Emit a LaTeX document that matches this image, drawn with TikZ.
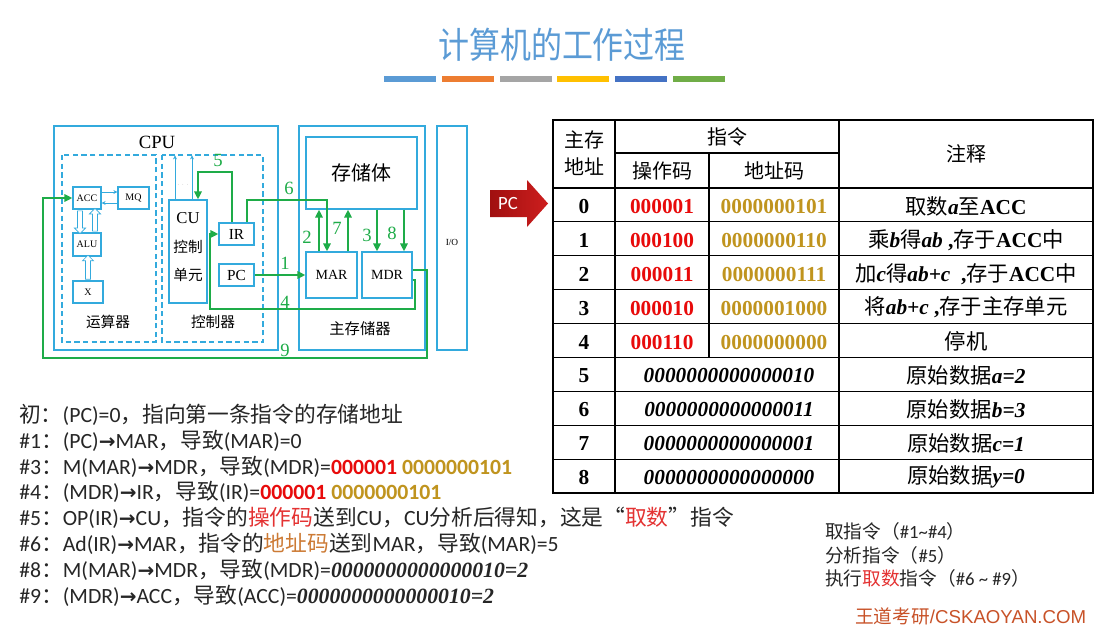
\documentclass[tikz,border=0pt]{standalone}
\usepackage{fontspec}
\usetikzlibrary{arrows.meta,calc,shapes.arrows}
\setmainfont{Liberation Serif}
\newfontfamily\cjk{Noto Sans CJK SC}
\newfontfamily\calib{Carlito}
\newfontfamily\arl{Liberation Sans}
\newfontfamily\djv{DejaVu Sans}
\newcommand\zh[1]{{\cjk\mdseries #1}}
\newcommand\rarr{{\djv\bfseries\fontsize{15}{15}\selectfont →}}
\newcommand\bitx{\rmfamily\bfseries\itshape}
\definecolor{boxblue}{RGB}{51,170,221}
\definecolor{ggreen}{RGB}{30,172,72}
\definecolor{titleblue}{RGB}{91,155,213}
\definecolor{barA}{RGB}{91,155,213}
\definecolor{barB}{RGB}{237,125,49}
\definecolor{barC}{RGB}{165,165,165}
\definecolor{barD}{RGB}{255,192,0}
\definecolor{barE}{RGB}{68,114,196}
\definecolor{barF}{RGB}{112,173,71}
\definecolor{txt}{RGB}{38,38,38}
\definecolor{tred}{RGB}{232,10,10}
\definecolor{tgold}{RGB}{192,148,30}
\definecolor{lred}{RGB}{228,50,50}
\definecolor{brownA}{RGB}{204,122,52}
\definecolor{wdcol}{RGB}{200,82,40}
\definecolor{pcdark}{RGB}{160,16,16}
\definecolor{pclight}{RGB}{205,30,30}
\begin{document}
\begin{tikzpicture}[x=0.75pt,y=-0.75pt,
  cbox/.style={draw=boxblue,line width=1.3pt},
  dbox/.style={draw=boxblue,line width=0.9pt,dash pattern=on 4pt off 2.5pt},
  ibox/.style={draw=boxblue,line width=0.9pt,fill=white,inner sep=0pt},
  gl/.style={draw=ggreen,line width=2pt,-{Triangle[length=6pt,width=5.5pt]}},
  thinarr/.style={draw=boxblue,line width=0.6pt,-{Stealth[length=3pt,width=3pt]}},
  harr/.style={single arrow,draw=boxblue,fill=white,line width=0.5pt,inner sep=1.6pt,
     single arrow head extend=2.3pt,single arrow head indent=0pt,minimum width=0pt},
  lbl/.style={text=ggreen,font=\fontsize{14}{14}\selectfont,inner sep=0pt},
  tl/.style={draw=black,line width=0.8pt},
  tnum/.style={font=\fontsize{16}{16}\selectfont\bfseries,inner sep=0pt},
  thead/.style={font=\cjk\fontsize{15}{20}\selectfont,inner sep=0pt,align=center},
  bline/.style={anchor=west,inner sep=0pt,text=txt,font=\calib\fontsize{16.3}{16}\selectfont},
  rline/.style={anchor=west,inner sep=0pt,text=txt,font=\calib\fontsize{14}{14}\selectfont}]
\useasboundingbox (0,0) rectangle (1117,629);
\fill[white] (0,0) rectangle (1117,629);

% title and bars
\node[text=titleblue,font=\cjk\fontsize{27}{30}\selectfont,xscale=0.86] (title) at (562,45) {计算机的工作过程};
\foreach \c [count=\i from 0] in {barA,barB,barC,barD,barE,barF}
  \fill[\c] ({384+\i*57.8},76) rectangle ++(52,6);

% ---------- CPU diagram ----------
\draw[cbox] (54,126) rectangle (278,350);
\node[font=\fontsize{14}{14}\selectfont] (cpu) at (157,142) {CPU};
\draw[dbox] (62,155) rectangle (156,342);
\draw[dbox] (162,155) rectangle (263,342);

\node[ibox,minimum width=21pt,minimum height=16.5pt,font=\fontsize{7.5}{8}\selectfont] (ACC) at (87,198) {ACC};
\node[ibox,minimum width=23.25pt,minimum height=16.5pt,font=\fontsize{7.5}{8}\selectfont] (MQ) at (133.5,198) {MQ};
\node[ibox,minimum width=21pt,minimum height=17.25pt,font=\fontsize{7.5}{8}\selectfont] (ALU) at (87,244.5) {ALU};
\node[ibox,minimum width=22.5pt,minimum height=16.5pt,font=\fontsize{7.5}{8}\selectfont] (X) at (88,292) {X};
\node[font=\cjk\fontsize{11}{11}\selectfont] (ysq) at (108,322) {运算器};

\draw[thinarr] ($(ACC.east)+(0,-6)$) -- ($(MQ.west)+(0,-6)$);
\draw[thinarr] ($(MQ.west)+(0,5)$) -- ($(ACC.east)+(0,5)$);
\node[harr,rotate=-90,minimum height=17pt] (h1) at (80,221) {};
\node[harr,rotate=90,minimum height=17pt] (h2) at (95,221) {};
\node[harr,rotate=90,minimum height=18pt] (h3) at (88,268.5) {};

\node[ibox,minimum width=28.5pt,minimum height=77.25pt] (CU) at (188,251.5) {};
\node[font=\fontsize{12.5}{12}\selectfont] (cut) at (188,218) {CU};
\node[font=\cjk\fontsize{11}{11}\selectfont] (cuz1) at (188,247) {控制};
\node[font=\cjk\fontsize{11}{11}\selectfont] (cuz2) at (188,275) {单元};
\draw[thinarr] ($(CU.north)+(-13,0)$) -- ++(0,-44);
\draw[thinarr] ($(CU.north)+(4,0)$) -- ++(0,-44);
\node[text=gray!60,font=\tiny] (dots) at (183,185) {$\cdots$};
\node[ibox,minimum width=26.25pt,minimum height=16.5pt,font=\fontsize{11.5}{11}\selectfont] (IR) at (236.5,234) {IR};
\node[ibox,minimum width=26.25pt,minimum height=16.5pt,font=\fontsize{11.5}{11}\selectfont] (PC) at (236.5,275) {PC};
\node[font=\cjk\fontsize{11}{11}\selectfont] (kzq) at (213,322) {控制器};

% main memory
\draw[cbox] (299,126) rectangle (425,350);
\node[ibox,minimum width=83.25pt,minimum height=54pt,font=\cjk\fontsize{15}{15}\selectfont] (MEM) at (361.5,173) {存储体};
\node[ibox,minimum width=38.25pt,minimum height=34.5pt,font=\fontsize{10.5}{11}\selectfont] (MAR) at (331.5,275) {MAR};
\node[ibox,minimum width=37.5pt,minimum height=34.5pt,font=\fontsize{10.5}{11}\selectfont] (MDR) at (387,275) {MDR};
\node[font=\cjk\fontsize{11.5}{12}\selectfont] (zcc) at (360,329) {主存储器};

% I/O
\draw[cbox] (437,126) rectangle (467,350);
\node[font=\fontsize{7}{7}\selectfont] (io) at (452,242) {I/O};

% green connectors
\coordinate (b5) at (198,172);
\draw[gl] ($(IR.north)+(-4.5,0)$) |- (b5) -- (b5 |- CU.north);
\coordinate (b6) at (327,200);
\draw[gl] ($(IR.north)+(10.5,0)$) |- (b6) -- (b6 |- MAR.north);
\draw[gl] (PC.east) -- (PC.east -| MAR.west);
\coordinate (a2) at ($(MAR.north)+(-12.5,0)$);
\draw[gl] (a2) -- (a2 |- MEM.south);
\coordinate (a7) at ($(MAR.north)+(16.5,0)$);
\draw[gl] (a7) -- (a7 |- MEM.south);
\coordinate (a3) at ($(MDR.north)+(-10,0)$);
\draw[gl] (a3 |- MEM.south) -- (a3);
\coordinate (a8) at ($(MDR.north)+(17,0)$);
\draw[gl] (a8 |- MEM.south) -- (a8);
\coordinate (b4a) at (415,309);
\coordinate (b4b) at (210,309);
\draw[gl] ($(MDR.east)+(0,5)$) -| (b4a) -- (b4b) |- (IR.west);
\coordinate (b9a) at (427,358);
\coordinate (b9b) at (43,358);
\draw[gl] ($(MDR.east)+(0,-5)$) -| (b9a) -- (b9b) |- (ACC.west);

\node[lbl] (n5) at (218,160) {5};
\node[lbl] (n6) at (289,188) {6};
\node[lbl] (n2) at (307,237) {2};
\node[lbl] (n7) at (337,228) {7};
\node[lbl] (n3) at (367,235) {3};
\node[lbl] (n8) at (392,233) {8};
\node[lbl] (n1) at (285,263) {1};
\node[lbl] (n4) at (285,302) {4};
\node[lbl] (n9) at (285,350) {9};

% PC arrow
\shade[left color=pcdark,right color=pclight] (490,190) -- (527,190) -- (527,180) -- (548,203.5) -- (527,227) -- (527,217) -- (490,217) -- cycle;
\node[text=white,font=\calib\fontsize{14}{14}\selectfont] (pcl) at (508,203.5) {PC};

% ---------- table ----------
\draw[tl] (615,120) -- (615,493);
\draw[tl] (839,120) -- (839,493);
\draw[tl] (615,153) -- (839,153);
\draw[tl] (709,153) -- ({709},{188+5*33.89});
\draw[tl] (553,188) -- (1093,188);
\foreach \i in {1,...,8} \draw[tl] (553,{188+\i*33.89}) -- (1093,{188+\i*33.89});
\draw[line width=1.6pt] (553,120) rectangle (1093,493);

\node[thead] (hAddr) at (584,153) {主存\\地址};
\node[thead] (hIns) at (727,137) {指令};
\node[thead] (hOp) at (662,171) {操作码};
\node[thead] (hAd) at (774,171) {地址码};
\node[thead] (hNote) at (966,154) {注释};

\foreach \i in {0,...,8} \node[tnum] (r\i) at (584,{188+(\i+0.5)*33.89+1.5}) {\i};
\foreach \i/\o/\a in {0/000001/0000000101,1/000100/0000000110,2/000011/0000000111,3/000010/0000001000,4/000110/0000000000}{
  \node[tnum,text=tred] (op\i) at (662,{188+(\i+0.5)*33.89+1.5}) {\o};
  \node[tnum,text=tgold] (ad\i) at (774,{188+(\i+0.5)*33.89+1.5}) {\a};
}
\foreach \i/\v in {5/0000000000000010,6/0000000000000011,7/0000000000000001,8/0000000000000000}
  \node[tnum,font=\fontsize{16}{16}\selectfont\bfseries\itshape] (d\i) at (729,{188+(\i+0.5)*33.89+1.5}) {\v};

\node[tnum] (c0) at (966,{188+0.5*33.89+1}) {\zh{取数}\textit{a}\zh{至}ACC};
\node[tnum] (c1) at (966,{188+1.5*33.89+1}) {\zh{乘}\textit{b}\zh{得}\textit{ab} ,\zh{存于}ACC\zh{中}};
\node[tnum] (c2) at (966,{188+2.5*33.89+1}) {\zh{加}\textit{c}\zh{得}\textit{ab+c}\ \ ,\zh{存于}ACC\zh{中}};
\node[tnum] (c3) at (966,{188+3.5*33.89+1}) {\zh{将}\textit{ab+c} ,\zh{存于主存单元}};
\node[tnum] (c4) at (966,{188+4.5*33.89+1}) {\zh{停机}};
\node[tnum] (c5) at (966,{188+5.5*33.89+1}) {\zh{原始数据}\textit{a=2}};
\node[tnum] (c6) at (966,{188+6.5*33.89+1}) {\zh{原始数据}\textit{b=3}};
\node[tnum] (c7) at (966,{188+7.5*33.89+1}) {\zh{原始数据}\textit{c=1}};
\node[tnum] (c8) at (966,{188+8.5*33.89+1}) {\zh{原始数据}\textit{y=0}};

% ---------- bottom-left text ----------
\node[bline] (L0) at (19,415) {\zh{初：}(PC)=0\zh{，指向第一条指令的存储地址}};
\node[bline] (L1) at (19,441) {\#1\zh{：}(PC)\rarr MAR\zh{，导致}(MAR)=0};
\node[bline] (L2) at (19,467) {\#3\zh{：}M(MAR)\rarr MDR\zh{，导致}(MDR)=\textcolor{tred}{\bfseries 000001} \textcolor{tgold}{\bfseries 0000000101}};
\node[bline] (L3) at (19,492) {\#4\zh{：}(MDR)\rarr IR\zh{，导致}(IR)=\textcolor{tred}{\bfseries 000001} \textcolor{tgold}{\bfseries 0000000101}};
\node[bline] (L4) at (19,518) {\#5\zh{：}OP(IR)\rarr CU\zh{，指令的\textcolor{lred}{操作码}送到}CU\zh{，}CU\zh{分析后得知，这是“\textcolor{lred}{取数}”指令}};
\node[bline] (L5) at (19,544) {\#6\zh{：}Ad(IR)\rarr MAR\zh{，指令的\textcolor{brownA}{地址码}送到}MAR\zh{，导致}(MAR)=5};
\node[bline] (L6) at (19,570) {\#8\zh{：}M(MAR)\rarr MDR\zh{，导致}(MDR)={\bitx 0000000000000010=2}};
\node[bline] (L7) at (19,596) {\#9\zh{：}(MDR)\rarr ACC\zh{，导致}(ACC)={\bitx 0000000000000010=2}};

% ---------- bottom-right text ----------
\node[rline] (R0) at (825,531) {\zh{取指令（}\#1\textasciitilde\#4\zh{）}};
\node[rline] (R1) at (825,555) {\zh{分析指令（}\#5\zh{）}};
\node[rline] (R2) at (825,578) {\zh{执行\textcolor{lred}{取数}指令（}\#6 \textasciitilde{} \#9\zh{）}};
\node[anchor=west,inner sep=0pt,text=wdcol,font=\arl\fontsize{14}{14}\selectfont] (wd) at (855,616) {\zh{王道考研}/CSKAOYAN.COM};
\end{tikzpicture}
\end{document}
